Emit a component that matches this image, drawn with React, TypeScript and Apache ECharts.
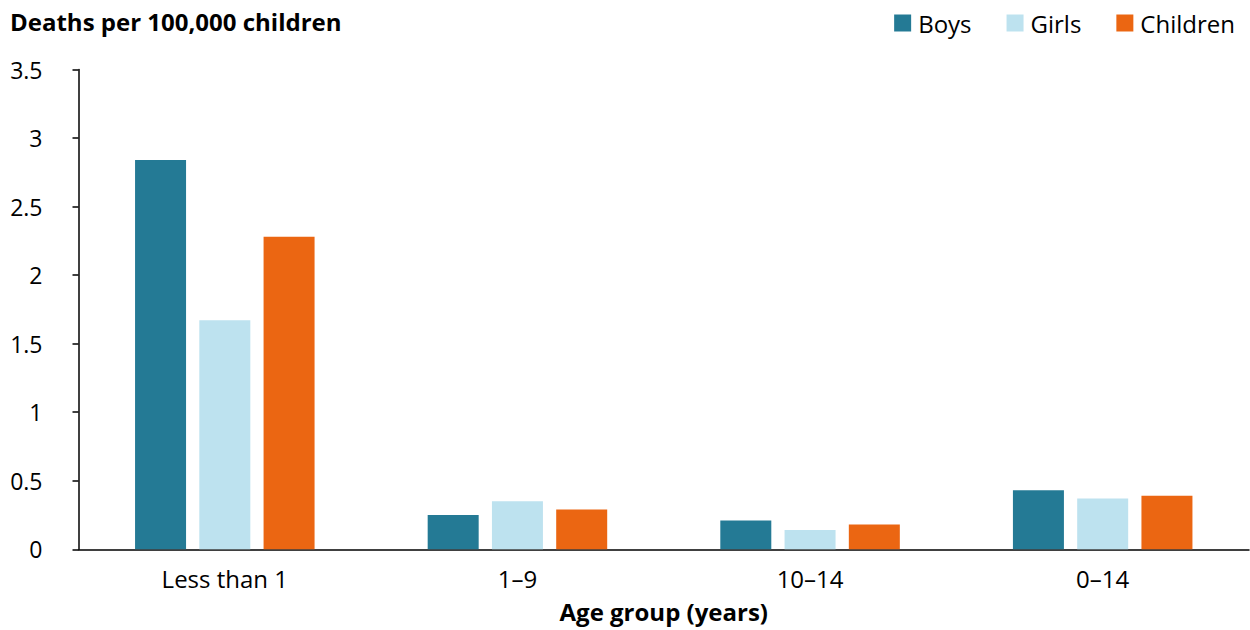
import React, { useEffect, useRef } from "react";
import * as echarts from "echarts";

const categories = ["Less than 1", "1–9", "10–14", "0–14"];
const boys = [2.84, 0.25, 0.21, 0.43];
const girls = [1.67, 0.35, 0.14, 0.37];
const children = [2.28, 0.29, 0.18, 0.39];
const seriesNames = ["Boys", "Girls", "Children"];
const colors = ["#247A95", "#BDE2EF", "#EB6612"];
const yTitle = "Deaths per 100,000 children";
const xTitle = "Age group (years)";

const FONT = "'Open Sans', 'Noto Sans', sans-serif";

export default function App() {
  const ref = useRef<HTMLDivElement>(null);
  useEffect(() => {
    if (!ref.current) return;
    const chart = echarts.init(ref.current, null, { renderer: "svg" });
    const data = [boys, girls, children];
    chart.setOption({
      animation: false,
      textStyle: { fontFamily: FONT, color: "#000" },
      title: {
        text: yTitle,
        left: 10,
        top: 9,
        padding: 0,
        textStyle: { fontFamily: FONT, fontSize: 24, fontWeight: "bold", color: "#000" },
      },
      legend: {
        right: 15,
        top: 11,
        padding: 0,
        icon: "rect",
        itemWidth: 17,
        itemHeight: 17,
        itemGap: 35,
        data: seriesNames,
        textStyle: { fontFamily: FONT, fontSize: 24, color: "#000", padding: [0, 0, 0, 2] },
      },
      grid: { left: 78.5, right: 1, top: 69.5, bottom: 80.7, containLabel: false },
      xAxis: {
        type: "category",
        data: categories,
        name: xTitle,
        nameLocation: "middle",
        nameGap: 50,
        nameTextStyle: { fontFamily: FONT, fontSize: 24, fontWeight: "bold", color: "#000" },
        axisLine: { show: true, lineStyle: { color: "#000", width: 1.5 } },
        axisTick: { show: false },
        axisLabel: { fontFamily: FONT, fontSize: 24, color: "#000", margin: 17 },
        splitLine: { show: false },
      },
      yAxis: {
        type: "value",
        min: 0,
        max: 3.5,
        interval: 0.5,
        axisLine: { show: true, lineStyle: { color: "#000", width: 1.5 } },
        axisTick: { show: true, length: 6, lineStyle: { color: "#000", width: 1.5 } },
        axisLabel: { fontFamily: FONT, fontSize: 23, color: "#000", margin: 36 },
        splitLine: { show: false },
      },
      series: seriesNames.map((n, i) => ({
        name: n,
        type: "bar",
        data: data[i],
        barWidth: 51,
        barGap: "26%",
        itemStyle: { color: colors[i] },
      })),
    });
    return () => chart.dispose();
  }, []);
  return (
    <div
      ref={ref}
      style={{ position: "fixed", left: 0, top: 0, width: 1250, height: 630, background: "#fff" }}
    />
  );
}
